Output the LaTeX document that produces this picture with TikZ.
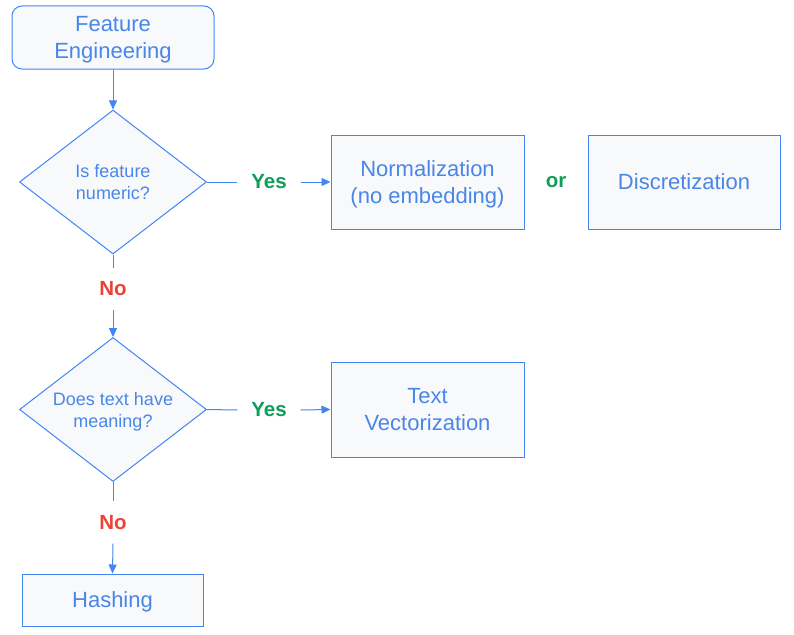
\documentclass[tikz,border=0pt]{standalone}
\usepackage{fontspec}
\setmainfont{Liberation Sans}
\usetikzlibrary{shapes.geometric,arrows.meta}
\definecolor{gblue}{HTML}{4285F4}
\definecolor{gtext}{HTML}{4A86E8}
\definecolor{gfill}{HTML}{F8F9FA}
\definecolor{ggreen}{HTML}{0F9D58}
\definecolor{gred}{HTML}{EA4335}
\tikzset{
  boxst/.style={draw=gblue, line width=1pt, fill=gfill, text=gtext, inner sep=0pt, text depth=0pt,
    align=center, font=\fontsize{22}{27}\selectfont},
  decst/.style={draw=gblue, line width=1pt, fill=gfill, text=gtext, diamond, shape aspect=1.3, inner sep=0pt,
    text depth=0pt, align=center, minimum width=187pt, minimum height=144pt, font=\fontsize{18}{22}\selectfont},
  labst/.style={inner sep=0pt, minimum width=63pt, font=\fontsize{20.5}{24}\selectfont\bfseries},
  vlab/.style={inner sep=0pt, minimum height=42pt, font=\fontsize{20.5}{24}\selectfont\bfseries},
  conn/.style={draw=gblue, line width=1pt},
  arr/.style={conn, -{Triangle[length=9pt,width=8pt]}}
}
\begin{document}
\begin{tikzpicture}[x=1pt,y=-1pt]
\useasboundingbox (0,0) rectangle (794,634);
\node[boxst, rounded corners=10pt, minimum width=202pt, minimum height=63pt] (fe) at (113,37.5) {Feature\\Engineering};
\node[decst] (d1) at (113,182) {Is feature\\numeric?};
\node[labst, text=ggreen] (y1) at (269,182) {Yes};
\node[boxst, minimum width=193pt, minimum height=94pt] (norm) at (427.5,182) {Normalization\\(no embedding)};
\node[labst, text=ggreen, minimum width=0pt] (or) at (556,182) {or};
\node[boxst, minimum width=192pt, minimum height=94pt] (disc) at (684,182) {Discretization};
\node[vlab, text=gred] (n1) at (113,289) {No};
\node[decst] (d2) at (113,409.5) {Does text have\\meaning?};
\node[labst, text=ggreen] (y2) at (269,410) {Yes};
\node[boxst, minimum width=193pt, minimum height=95pt] (tv) at (427.5,409.5) {Text\\Vectorization};
\node[vlab, text=gred] (n2) at (113,522.5) {No};
\node[boxst, minimum width=181pt, minimum height=52pt] (hash) at (112.5,600) {Hashing};
\draw[arr] (fe) -- (d1);
\draw[conn] (d1.east) -- (y1.west);
\draw[arr] (y1.east) -- (norm.west);
\draw[conn] (d1.south) -- (n1.north);
\draw[arr] (n1.south) -- (d2.north);
\draw[conn] (d2.east) -- (y2.west);
\draw[arr] (y2.east) -- (tv.west);
\draw[conn] (d2.south) -- (n2.north);
\draw[arr] (n2.south) -- (hash.north);
\end{tikzpicture}
\end{document}
